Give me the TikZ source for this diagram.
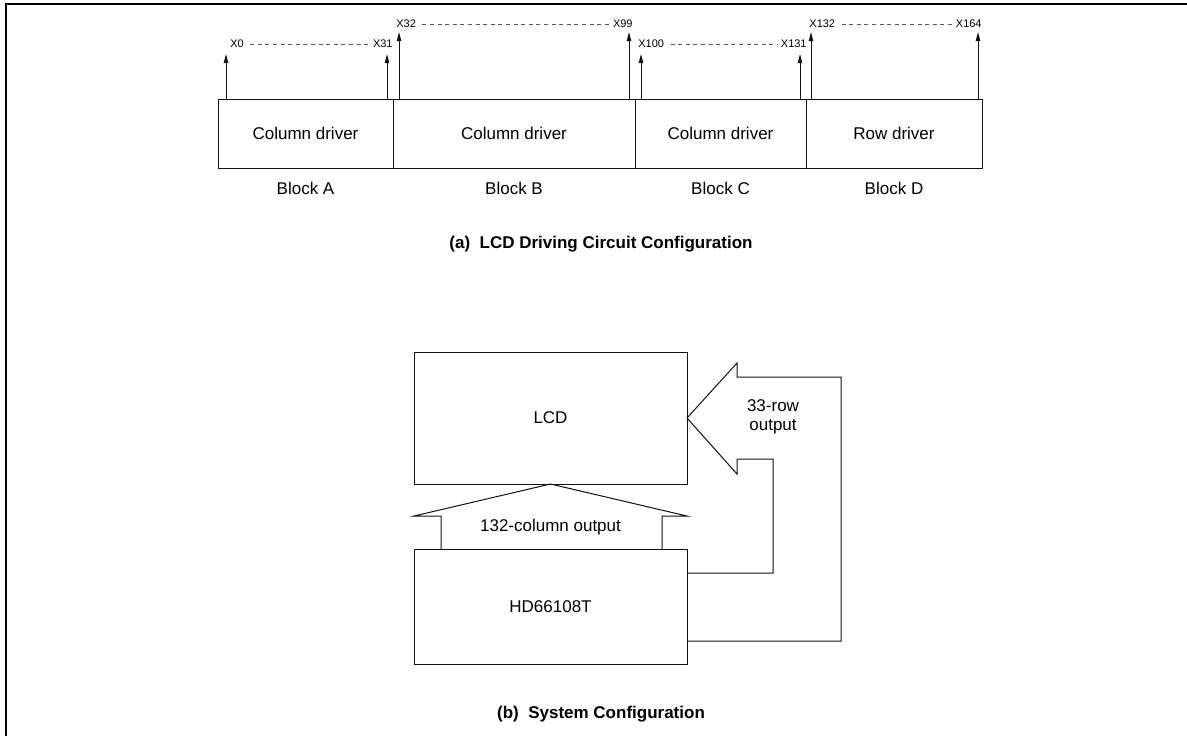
\documentclass[tikz,border=0pt]{standalone}
\usepackage{fontspec}
\setmainfont{Liberation Sans}
\usepackage{tikz}
\usetikzlibrary{arrows.meta, positioning, calc}
\definecolor{ink}{HTML}{111111}
\definecolor{dashgray}{HTML}{555555}

\tikzset{
  blockbox/.style={draw=ink, line width=0.5pt, minimum height=34.5pt, inner sep=0pt, outer sep=0pt, font=\fontsize{8.5}{10}\selectfont},
  sysbox/.style={draw=ink, line width=0.5pt, minimum width=136.5pt, inner sep=0pt, outer sep=0pt, font=\fontsize{8.5}{10}\selectfont},
  plain/.style={inner sep=1pt, font=\fontsize{8.5}{9.5}\selectfont, align=center},
  pinlbl/.style={inner sep=0.5pt, font=\fontsize{5.5}{6}\selectfont},
  caption/.style={inner sep=1pt, font=\fontsize{8.5}{10}\selectfont\bfseries},
  sig/.style={draw=ink, line width=0.5pt, -{Triangle[length=4.5pt,width=2.2pt]}},
  dashline/.style={draw=dashgray, line width=0.4pt, dash pattern=on 2pt off 1.8pt},
  outline/.style={draw=ink, line width=0.5pt}
}

\begin{document}
\begin{tikzpicture}[x=0.5pt, y=-0.5pt]
    \useasboundingbox (0,0) rectangle (1187,736);
    \draw[line width=1.25pt] (6,736) -- (6,4) -- (1187,4);

    \node[blockbox, minimum width=87.5pt] (blkA) at (305.5,133.5) {Column driver};
    \node[blockbox, minimum width=121pt, right=0pt of blkA] (blkB) {Column driver};
    \node[blockbox, minimum width=85.5pt, right=0pt of blkB] (blkC) {Column driver};
    \node[blockbox, minimum width=88pt, right=0pt of blkC] (blkD) {Row driver};
    \foreach \b/\t in {blkA/A, blkB/B, blkC/C, blkD/D}
      \node[plain] (lab\t) at ([yshift=-10pt]\b.south) {Block \t};

    \foreach \nm/\ax/\ty/\blk in {%
      a0/226/54/blkA, a31/387/54/blkA,
      a32/399/32/blkB, a99/629/32/blkB,
      a100/641/54/blkC, a131/800/54/blkC,
      a132/811/32/blkD, a164/978/32/blkD%
    } {
      \coordinate (\nm) at (\ax,\ty);
      \draw[sig] (\nm |- \blk.north) -- (\nm);
    }
    \foreach \nm/\px/\py/\anc/\txt in {%
      l0/229/44/west/X0, l31/394/44/east/X31,
      l32/395/24/west/X32, l99/634/24/east/X99,
      l100/637/44/west/X100, l131/808/44/east/X131,
      l132/808/24/west/X132, l164/983/24/east/X164%
    } {
      \node[pinlbl, anchor=\anc] (\nm) at (\px,\py) {\txt};
    }
    \foreach \p/\q in {l0/l31, l32/l99, l100/l131, l132/l164}
      \draw[dashline] ([xshift=2.5pt]\p.east) -- ([xshift=-1pt]\q.west);

    \node[caption] (capA) at (601,244) {(a)~~LCD Driving Circuit Configuration};

    \node[sysbox, minimum height=66pt] (lcd) at (550.5,418) {LCD};
    \node[sysbox, minimum height=57.5pt] (hd) at (550.5,606.5) {HD66108T};

    \coordinate (wl) at (441,516);
    \coordinate (wr) at (662,516);
    \draw[outline] (wl |- hd.north) -- (wl) -- (lcd.south west |- wl) -- (lcd.south)
      -- (lcd.south east |- wr) -- (wr) -- (wr |- hd.north);
    \node[plain] (colout) at (550.5,527) {132-column output};

    \coordinate (outb) at (841,641);
    \coordinate (inb) at (773,573);
    \draw[outline] (hd.east |- outb) -- (outb) |- (737,377) -- (737,363) -- (lcd.east)
      -- (737,474) -- (737,459) -| (inb) -- (hd.east |- inb);
    \node[plain] (rowout) at (773,417) {33-row\\output};

    \node[caption] (capB) at (601,714) {(b)~~System Configuration};
\end{tikzpicture}
\end{document}
